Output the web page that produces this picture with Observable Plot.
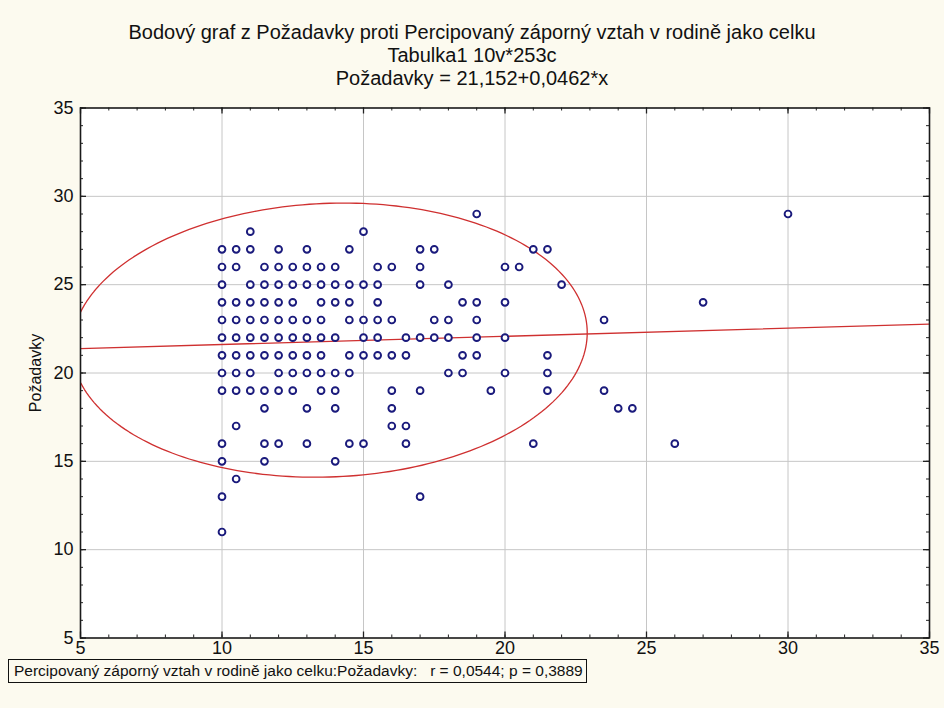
<!DOCTYPE html>
<html>
<head>
<meta charset="utf-8">
<script src="https://cdn.jsdelivr.net/npm/d3@7"></script>
<script src="https://cdn.jsdelivr.net/npm/@observablehq/plot@0.6"></script>
<style>
  html, body { margin: 0; padding: 0; background: #fcfaef; }
  #wrap { position: relative; width: 944px; height: 708px; font-family: Arial, "Liberation Sans", sans-serif; color: #111; }
  #wrap svg { position: absolute; left: 0; top: 0; background: transparent; }
  .t { position: absolute; left: 0; width: 944px; text-align: center; font-size: 20px; line-height: 22px; }
  #caption { position: absolute; left: 8px; top: 659px; width: 579px; height: 24px; border: 1px solid #111; box-sizing: border-box; font-size: 15.5px; line-height: 22px; padding-left: 5px; white-space: pre; }
</style>
</head>
<body>
<div id="wrap">
  <div class="t" style="top:21px">Bodový graf z Požadavky proti Percipovaný záporný vztah v rodině jako celku</div>
  <div class="t" style="top:44px">Tabulka1 10v*253c</div>
  <div class="t" style="top:67px">Požadavky = 21,152+0,0462*x</div>
  <div id="caption">Percipovaný záporný vztah v rodině jako celku:Požadavky:   r = 0,0544; p = 0,3889</div>
</div>
<script>
// Point data: for each Požadavky value (y), the Percipovaný ... values (x) seen
const yLevels = [29, 28, 27, 26, 25, 24, 23, 22, 21, 20, 19, 18, 17, 16, 15, 14, 13, 11];
const xAtLevel = [
  [19, 30],
  [11, 15],
  [10, 10.5, 11, 12, 13, 14.5, 17, 17.5, 21, 21.5],
  [10, 10.5, 11.5, 12, 12.5, 13, 13.5, 14, 15.5, 16, 17, 20, 20.5],
  [10, 11, 11.5, 12, 12.5, 13, 13.5, 14, 14.5, 15, 15.5, 17, 18, 22],
  [10, 10.5, 11, 11.5, 12, 12.5, 13.5, 14, 14.5, 15.5, 18.5, 19, 20, 27],
  [10, 10.5, 11, 11.5, 12, 12.5, 13, 13.5, 14.5, 15, 15.5, 16, 17.5, 18, 19, 23.5],
  [10, 10.5, 11, 11.5, 12, 12.5, 13, 13.5, 14, 15, 15.5, 16.5, 17, 17.5, 18, 19, 20],
  [10, 10.5, 11, 11.5, 12, 12.5, 13, 13.5, 14.5, 15, 15.5, 16, 16.5, 18.5, 19, 21.5],
  [10, 10.5, 11, 12, 12.5, 13, 13.5, 14, 14.5, 18, 18.5, 20, 21.5],
  [10, 10.5, 11, 11.5, 12, 12.5, 13.5, 14, 16, 17, 19.5, 21.5, 23.5],
  [11.5, 13, 14, 16, 24, 24.5],
  [10.5, 16, 16.5],
  [10, 11.5, 12, 13, 14.5, 15, 16.5, 21, 26],
  [10, 11.5, 14],
  [10.5],
  [10, 17],
  [10]
];
const xTicks = [5, 10, 15, 20, 25, 30, 35];
const yTicks = [5, 10, 15, 20, 25, 30, 35];
const minorX = d3.range(5, 36, 1);
const minorY = d3.range(5, 36, 1);
// Regression (from the subtitle) and 95% ellipse statistics
const regIntercept = 21.152, regSlope = 0.0462;
const ellMean = [13.8, 21.86];
const ellSd = [3.72, 3.17];
const ellR = 0.0544;
const ellChi2 = 5.991;

const points = [];
yLevels.forEach((y, i) => xAtLevel[i].forEach(x => points.push({x, y})));

const regLine = [5, 35].map(x => ({x, y: regIntercept + regSlope * x}));
const k = Math.sqrt(ellChi2);
const ellipse = d3.range(0, 241).map(i => {
  const t = (i / 240) * 2 * Math.PI;
  return {
    x: ellMean[0] + k * ellSd[0] * Math.cos(t),
    y: ellMean[1] + k * ellSd[1] * (ellR * Math.cos(t) + Math.sqrt(1 - ellR * ellR) * Math.sin(t))
  };
});

const W = 944, H = 708;
const mT = 107.5, mB = 70.5, mL = 80, mR = 15;
const iW = W - mL - mR, iH = H - mT - mB;
const red = "#cf3030";

const chart = Plot.plot({
  width: W, height: H,
  marginTop: mT, marginBottom: mB, marginLeft: mL, marginRight: mR,
  style: {background: "transparent", fontFamily: "Arial, 'Liberation Sans', sans-serif", color: "#111"},
  x: {domain: [5, 35], label: null},
  y: {domain: [5, 35], label: null},
  marks: [
    Plot.frame({fill: "white"}),
    Plot.gridX(xTicks.slice(1, -1), {stroke: "#c6c6c6", strokeOpacity: 1, strokeWidth: 1}),
    Plot.gridY(yTicks.slice(1, -1), {stroke: "#c6c6c6", strokeOpacity: 1, strokeWidth: 1}),
    Plot.line(ellipse, {x: "x", y: "y", stroke: red, strokeWidth: 1.3, clip: true, curve: "linear"}),
    Plot.line(regLine, {x: "x", y: "y", stroke: red, strokeWidth: 1.3, clip: true}),
    Plot.dot(points, {x: "x", y: "y", r: 3.4, stroke: "#1a1a7c", strokeWidth: 1.9, fill: "white"}),
    // inward ticks: minor
    Plot.tickX(minorX, {x: d => d, insetTop: iH - 3, stroke: "#222"}),
    Plot.tickX(minorX, {x: d => d, insetBottom: iH - 3, stroke: "#222"}),
    Plot.tickY(minorY, {y: d => d, insetRight: iW - 3, stroke: "#222"}),
    Plot.tickY(minorY, {y: d => d, insetLeft: iW - 3, stroke: "#222"}),
    // inward ticks: major
    Plot.tickX(xTicks, {x: d => d, insetTop: iH - 6, stroke: "#222", strokeWidth: 1.3}),
    Plot.tickX(xTicks, {x: d => d, insetBottom: iH - 6, stroke: "#222", strokeWidth: 1.3}),
    Plot.tickY(yTicks, {y: d => d, insetRight: iW - 6, stroke: "#222", strokeWidth: 1.3}),
    Plot.tickY(yTicks, {y: d => d, insetLeft: iW - 6, stroke: "#222", strokeWidth: 1.3}),
    Plot.frame({stroke: "#1a1a1a", strokeWidth: 1.6}),
    Plot.axisX(xTicks, {anchor: "bottom", tickSize: 0, tickPadding: 3, fontSize: 18, label: null}),
    Plot.axisY(yTicks, {anchor: "left", tickSize: 0, tickPadding: 7, fontSize: 18, label: null}),
    Plot.text(["Požadavky"], {frameAnchor: "left", dx: -45, rotate: -90, fontSize: 16, textAnchor: "middle", text: d => d})
  ]
});
document.getElementById("wrap").prepend(chart);
</script>
</body>
</html>
